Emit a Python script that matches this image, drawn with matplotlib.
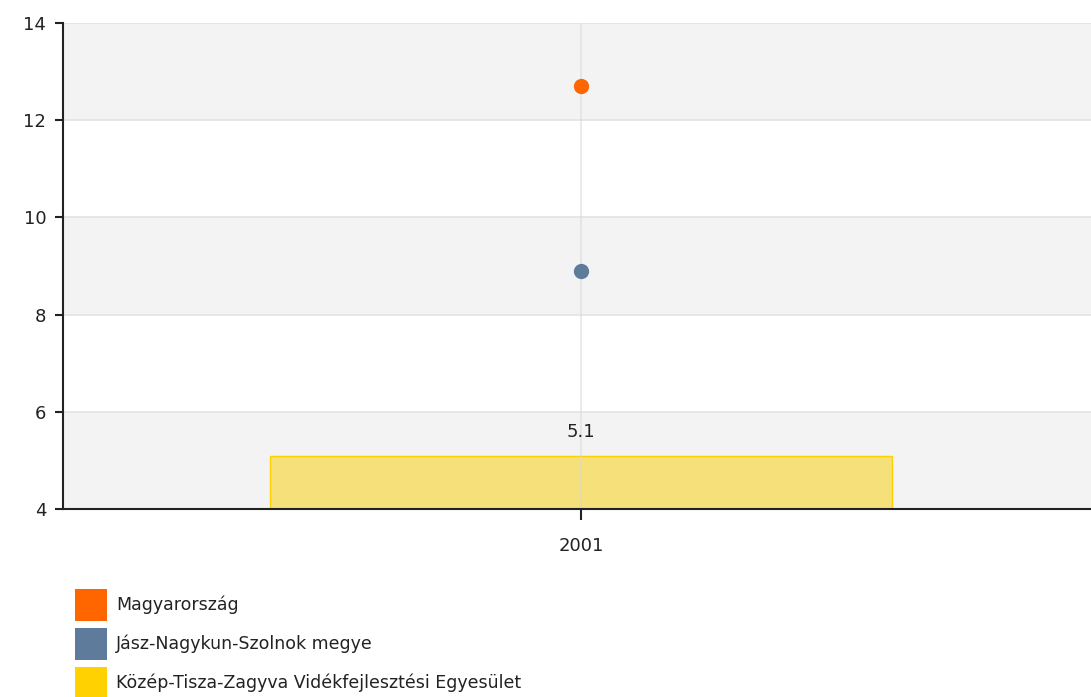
import matplotlib
matplotlib.use("Agg")
import matplotlib.pyplot as plt

categories = ["2001"]
magyarorszag = [12.7]
jnsz = [8.9]
kozep_tisza = [5.1]
series_names = ["Magyarország", "Jász-Nagykun-Szolnok megye",
                "Közép-Tisza-Zagyva Vidékfejlesztési Egyesület"]
colors = ["#ff6600", "#5f7b9c", "#ffd100"]
yticks = [4, 6, 8, 10, 12, 14]

W, H = 1091, 697
fig = plt.figure(figsize=(W / 100, H / 100), dpi=100)
left, right, top, bottom = 63, 1099, 23, 509
ax = fig.add_axes([left / W, 1 - bottom / H, (right - left) / W, (bottom - top) / H])

x = list(range(len(categories)))
ax.set_xlim(-0.5, len(categories) - 0.5)
ax.set_ylim(4, 14)

# alternating bands
for i in range(len(yticks) - 1):
    if i % 2 == 0:
        ax.axhspan(yticks[i], yticks[i + 1], color="#f3f3f3", zorder=0, lw=0)
for y in yticks:
    ax.axhline(y, color="#e3e3e3", lw=1.2, zorder=0.5)

bars = ax.bar(x, [v - 4 for v in kozep_tisza], bottom=4, width=0.6,
              color="#f5e07a", edgecolor="#ffd100", lw=1, zorder=1)
for xi in x:
    ax.axvline(xi, color="#d8d8d8", lw=1.2, alpha=0.6, zorder=1.5)
for xi, v in zip(x, kozep_tisza):
    ax.text(xi, v + 0.3, f"{v}", ha="center", va="bottom", fontsize=13, color="#222222", zorder=3)

ax.plot(x, magyarorszag, "o", color=colors[0], ms=11, mec="none", zorder=4)
ax.plot(x, jnsz, "o", color=colors[1], ms=11, mec="none", zorder=4)

ax.set_yticks(yticks)
ax.set_yticklabels([str(t) for t in yticks], fontsize=13, color="#222222")
ax.set_xticks(x)
ax.set_xticklabels(categories, fontsize=13, color="#222222")
ax.tick_params(axis="y", length=6, width=1.5, color="#222222", pad=6)
ax.tick_params(axis="x", length=8, width=1.5, color="#222222", pad=12)
for s in ["top", "right"]:
    ax.spines[s].set_visible(False)
for s in ["left", "bottom"]:
    ax.spines[s].set_linewidth(1.5)
    ax.spines[s].set_color("#222222")
ax.set_facecolor("white")

# legend
sq = 32
ys = [589, 628, 667]
for name, c, yy in zip(series_names, colors, ys):
    fig.patches.append(plt.Rectangle((75 / W, 1 - (yy + sq) / H), sq / W, sq / H,
                                     transform=fig.transFigure, color=c, lw=0))
    fig.text(116 / W, 1 - (yy + sq / 2) / H, name, fontsize=12.5, va="center", ha="left",
             color="#222222")

fig.savefig("out.png", dpi=100)
